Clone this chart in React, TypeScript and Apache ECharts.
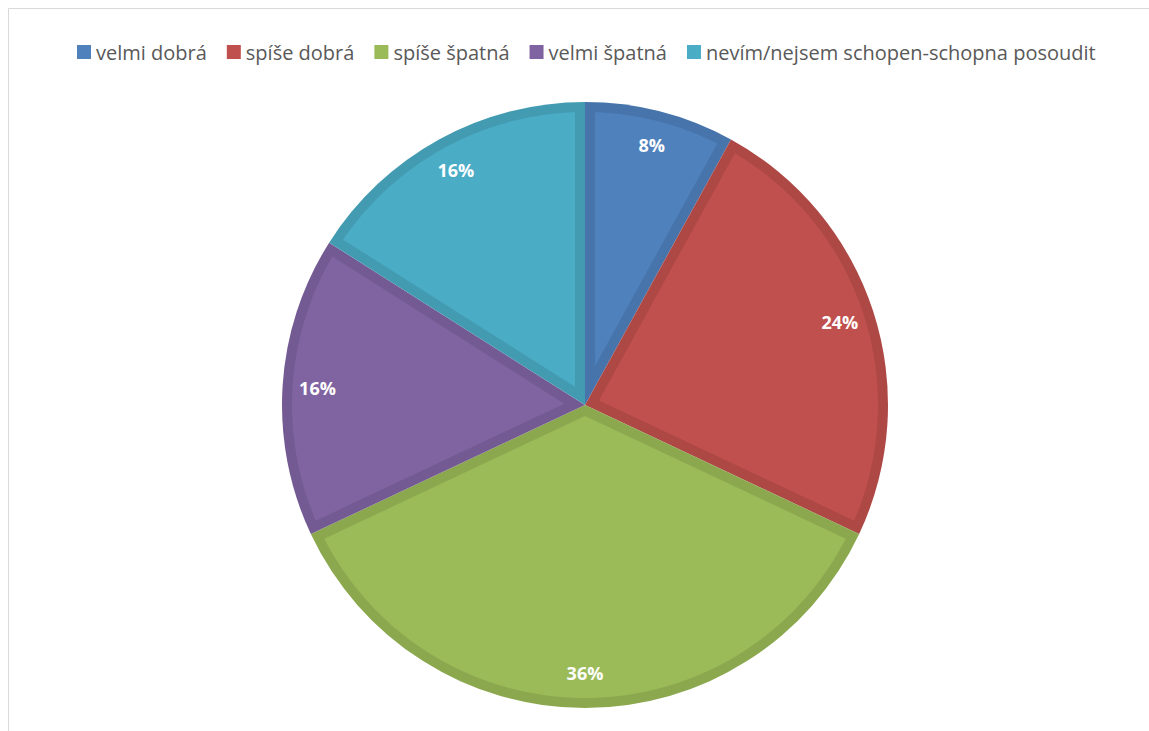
import React, { useEffect, useRef } from "react";
import * as echarts from "echarts";

const categories = [
  "velmi dobrá",
  "spíše dobrá",
  "spíše špatná",
  "velmi špatná",
  "nevím/nejsem schopen-schopna posoudit",
];
const values = [8, 24, 36, 16, 16];
const fillColors = ["#4f81bd", "#c0504d", "#9bbb59", "#8064a2", "#4bacc6"];
const edgeColors = ["#4674ab", "#ad4845", "#8ba84f", "#735a92", "#439bb2"];

const CX = 585;
const CY = 405;
const R = 303;
const BAND = 10;

export default function App() {
  const ref = useRef<HTMLDivElement>(null);
  useEffect(() => {
    if (!ref.current) return;
    const chart = echarts.init(ref.current, undefined, { renderer: "svg" });
    const total = values.reduce((a, b) => a + b, 0);
    const starts: number[] = [];
    let acc = 0;
    values.forEach((v) => {
      starts.push((acc / total) * Math.PI * 2);
      acc += v;
    });
    const pt = (ang: number, rad: number) => [CX + rad * Math.sin(ang), CY - rad * Math.cos(ang)];

    chart.setOption({
      animation: false,
      backgroundColor: "#ffffff",
      graphic: [
        {
          type: "rect",
          shape: { x: 8.5, y: 8.5, width: 1400, height: 1000 },
          style: { fill: "none", stroke: "#d9d9d9", lineWidth: 1 },
          silent: true,
          z: -1,
        },
      ],
      legend: {
        top: 37,
        left: 72,
        itemWidth: 14,
        itemHeight: 14,
        itemGap: 20,
        icon: "rect",
        textStyle: { fontFamily: "Open Sans", fontSize: 20, color: "#595959", padding: [0, 0, 0, 0] },
        data: categories.map((n, i) => ({ name: n, itemStyle: { color: fillColors[i] } })),
      },
      series: [
        {
          type: "pie",
          name: "base",
          center: [CX, CY],
          radius: [0, R],
          startAngle: 90,
          clockwise: true,
          silent: true,
          label: { show: false },
          labelLine: { show: false },
          itemStyle: { borderWidth: 0 },
          data: categories.map((n, i) => ({ name: n, value: values[i], itemStyle: { color: edgeColors[i] } })),
        },
        {
          type: "custom",
          name: "inset",
          coordinateSystem: "none",
          silent: true,
          data: values.map((v) => [v]),
          renderItem: (params: any, api: any) => {
            const i = params.dataIndex;
            const v = api.value(0);
            const a0 = starts[i];
            const a1 = a0 + (v / total) * Math.PI * 2;
            const theta = a1 - a0;
            const rin = R - BAND;
            const phi = Math.asin(BAND / rin);
            const apexDist = BAND / Math.sin(theta / 2);
            const pts: number[][] = [];
            pts.push(pt((a0 + a1) / 2, apexDist));
            const n = 80;
            for (let k = 0; k <= n; k++) {
              const a = a0 + phi + ((a1 - phi - (a0 + phi)) * k) / n;
              pts.push(pt(a, rin));
            }
            return {
              type: "polygon",
              shape: { points: pts },
              style: { fill: fillColors[i] },
            };
          },
          z: 3,
        },
        {
          type: "pie",
          name: "labels",
          center: [CX, CY],
          radius: [250, 280],
          startAngle: 90,
          clockwise: true,
          silent: true,
          z: 5,
          itemStyle: { color: "rgba(0,0,0,0)" },
          label: {
            show: true,
            position: "inside",
            formatter: (p: any) => p.value + "%",
            color: "#ffffff",
            fontFamily: "Open Sans",
            fontWeight: "bold",
            fontSize: 18,
          },
          labelLine: { show: false },
          data: categories.map((n, i) => ({ name: n, value: values[i] })),
        },
      ],
    });
    return () => chart.dispose();
  }, []);
  return (
    <div
      ref={ref}
      style={{ position: "fixed", left: 0, top: 0, width: 1149, height: 731 }}
    />
  );
}
